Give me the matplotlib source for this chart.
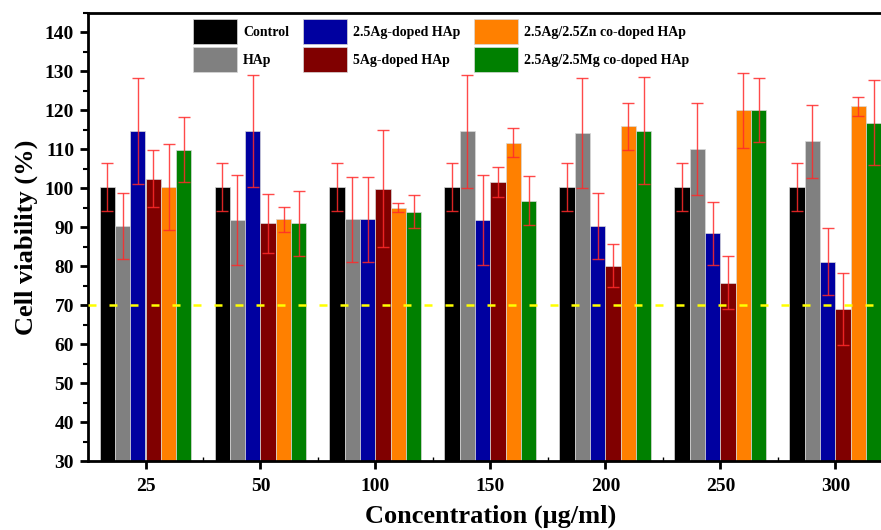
import matplotlib
matplotlib.use("Agg")
import matplotlib.pyplot as plt
import numpy as np
from matplotlib.ticker import MultipleLocator, FixedLocator

plt.rcParams['font.family'] = ['Liberation Serif', 'DejaVu Serif']
plt.rcParams['font.weight'] = 'bold'

concentrations = ["25", "50", "100", "150", "200", "250", "300"]
series_names = ["Control", "HAp", "2.5Ag-doped HAp", "5Ag-doped HAp",
                "2.5Ag/2.5Zn co-doped HAp", "2.5Ag/2.5Mg co-doped HAp"]
colors = ["#000000", "#808080", "#0000A0", "#800000", "#FF8000", "#008000"]

control = [100.4, 100.4, 100.4, 100.4, 100.4, 100.4, 100.4]
hap = [90.3, 91.8, 92.0, 114.6, 114.2, 110.0, 112.1]
ag25 = [114.6, 114.8, 92.0, 91.8, 90.3, 88.4, 81.2]
ag5 = [102.5, 91.0, 99.9, 101.6, 80.1, 75.8, 69.1]
agzn = [100.3, 92.1, 95.0, 111.7, 115.9, 120.0, 121.0]
agmg = [109.9, 91.0, 94.0, 96.8, 114.8, 120.2, 116.8]

control_err = [6.1, 6.1, 6.1, 6.1, 6.1, 6.1, 6.1]
hap_err = [8.4, 11.6, 11.0, 14.5, 14.2, 11.8, 9.4]
ag25_err = [13.6, 14.4, 11.0, 11.6, 8.4, 8.0, 8.7]
ag5_err = [7.4, 7.6, 15.0, 3.8, 5.5, 6.9, 9.2]
agzn_err = [11.0, 3.2, 1.2, 3.7, 6.0, 9.7, 2.4]
agmg_err = [8.4, 8.4, 4.2, 6.3, 13.7, 8.2, 10.9]

threshold = 70

values = [control, hap, ag25, ag5, agzn, agmg]
errors = [control_err, hap_err, ag25_err, ag5_err, agzn_err, agmg_err]

fig = plt.figure(figsize=(8.81, 5.30), dpi=100)
ax = fig.add_axes([88/881, 69/530, 805/881, 448/530])

x = np.arange(1, len(concentrations) + 1)
n = len(values)
width = 0.8 / n
for i, (v, e, c, name) in enumerate(zip(values, errors, colors, series_names)):
    pos = x + (i - (n - 1) / 2) * width
    ax.bar(pos, v, width=width, color=c, edgecolor='#d8d8d8', linewidth=0.5,
           label=name, zorder=2)
    ax.errorbar(pos, v, yerr=e, fmt='none', ecolor='#ff2a2a', elinewidth=1.0,
                capsize=4, capthick=1.0, alpha=0.85, zorder=3)

ax.axhline(threshold, color='#ffff00', linestyle=(0, (3.2, 5.2)), linewidth=1.8, zorder=4)

ax.set_xlim(0.5, 7.5)
ax.set_ylim(30, 145)
ax.set_xticks(x)
ax.set_xticklabels(concentrations)
ax.xaxis.set_minor_locator(FixedLocator(np.arange(1.5, 7.5, 1.0)))
ax.yaxis.set_major_locator(MultipleLocator(10))
ax.yaxis.set_minor_locator(MultipleLocator(5))
ax.tick_params(axis='both', which='major', direction='out', length=6, width=2,
               labelsize=14)
ax.tick_params(axis='x', which='major', pad=6)
ax.tick_params(axis='y', which='major', pad=4)
ax.tick_params(axis='y', which='minor', direction='out', length=3.5, width=1.5)
ax.tick_params(axis='x', which='minor', direction='in', length=3, width=1)
for lab in ax.get_xticklabels() + ax.get_yticklabels():
    lab.set_fontweight('bold')

for s in ax.spines.values():
    s.set_linewidth(2)

ax.set_ylabel("Cell viability (%)", fontsize=19, fontweight='bold', labelpad=5)
ax.set_xlabel("Concentration (\u03bcg/ml)", fontsize=19, fontweight='bold', labelpad=7)

leg = ax.legend(ncol=3, loc='upper left', bbox_to_anchor=(105/805, (448 - 6)/448),
                frameon=False, handlelength=3.17, handleheight=2.39,
                columnspacing=1.0, labelspacing=0.2, handletextpad=0.43,
                borderpad=0, borderaxespad=0,
                prop={'weight': 'bold', 'size': 10})

fig.savefig("out.png", dpi=100)
